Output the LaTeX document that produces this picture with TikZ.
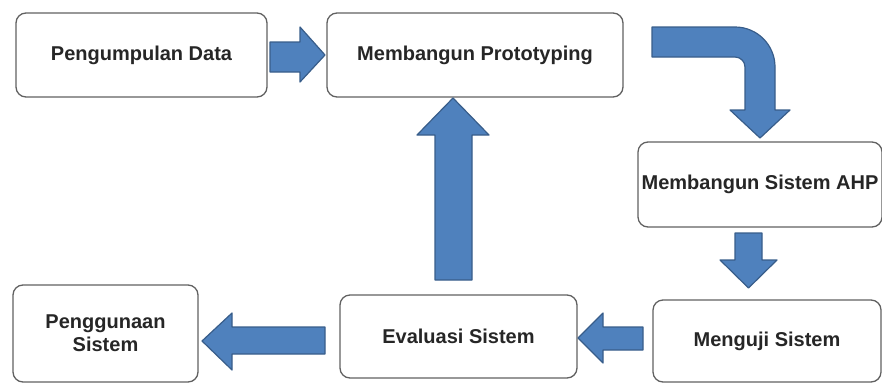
\documentclass[tikz,border=0pt]{standalone}
\usepackage{fontspec}
\setmainfont{Liberation Sans}
\begin{document}
\begin{tikzpicture}[x=1pt,y=-1pt,
  box/.style={draw=black!62,line width=1.3pt,rounded corners=10pt,fill=white,
    font=\bfseries\fontsize{20}{23}\selectfont,text=black!85,inner sep=0pt,align=center},
  blk/.style={fill=arrowfill,draw=arrowedge,line width=1.2pt,line join=round}]
\definecolor{arrowfill}{RGB}{79,129,189}
\definecolor{arrowedge}{RGB}{56,93,138}
\useasboundingbox (0,0) rectangle (882,383);
% boxes
\node[box,minimum width=251pt,minimum height=84pt] (pd) at (141.5,55) {Pengumpulan Data};
\node[box,minimum width=296pt,minimum height=84pt] (mp) at (475,55) {Membangun Prototyping};
\node[box,minimum width=244pt,minimum height=85pt] (ahp) at (760,184.5) {Membangun Sistem AHP};
\node[box,minimum width=228pt,minimum height=82pt] (mu) at (767,341) {Menguji Sistem};
\node[box,minimum width=237pt,minimum height=83pt] (ev) at (458.5,336.5) {Evaluasi Sistem};
\node[box,minimum width=185pt,minimum height=97pt] (pg) at (105.5,333.5) {Penggunaan\\Sistem};
% pd -> mp
\draw[blk] (270,42) -- (300,42) -- (300,27) -- (325,55) -- (300,82) -- (300,72) -- (270,72) -- cycle;
% mp -> ahp (bent arrow)
\draw[blk] (652,27) -- (735,27) arc[start angle=-90,end angle=0,radius=40]
  -- (775,110) -- (790,110) -- (760,138) -- (730,110) -- (745,110) -- (745,67)
  arc[start angle=0,end angle=-90,radius=10] -- (652,57) -- cycle;
% ahp -> mu
\draw[blk] (735,233) -- (762,233) -- (762,260) -- (777,260) -- (748.5,288) -- (720,260) -- (735,260) -- cycle;
% mu -> ev
\draw[blk] (643,327) -- (603,327) -- (603,313) -- (578,338) -- (603,363) -- (603,350) -- (643,350) -- cycle;
% ev -> pg
\draw[blk] (325,327) -- (232,327) -- (232,313) -- (202,341) -- (232,370) -- (232,354) -- (325,354) -- cycle;
% ev -> mp
\draw[blk] (435,280) -- (435,135) -- (417,135) -- (453,98) -- (489,135) -- (472,135) -- (472,280) -- cycle;
\end{tikzpicture}
\end{document}
